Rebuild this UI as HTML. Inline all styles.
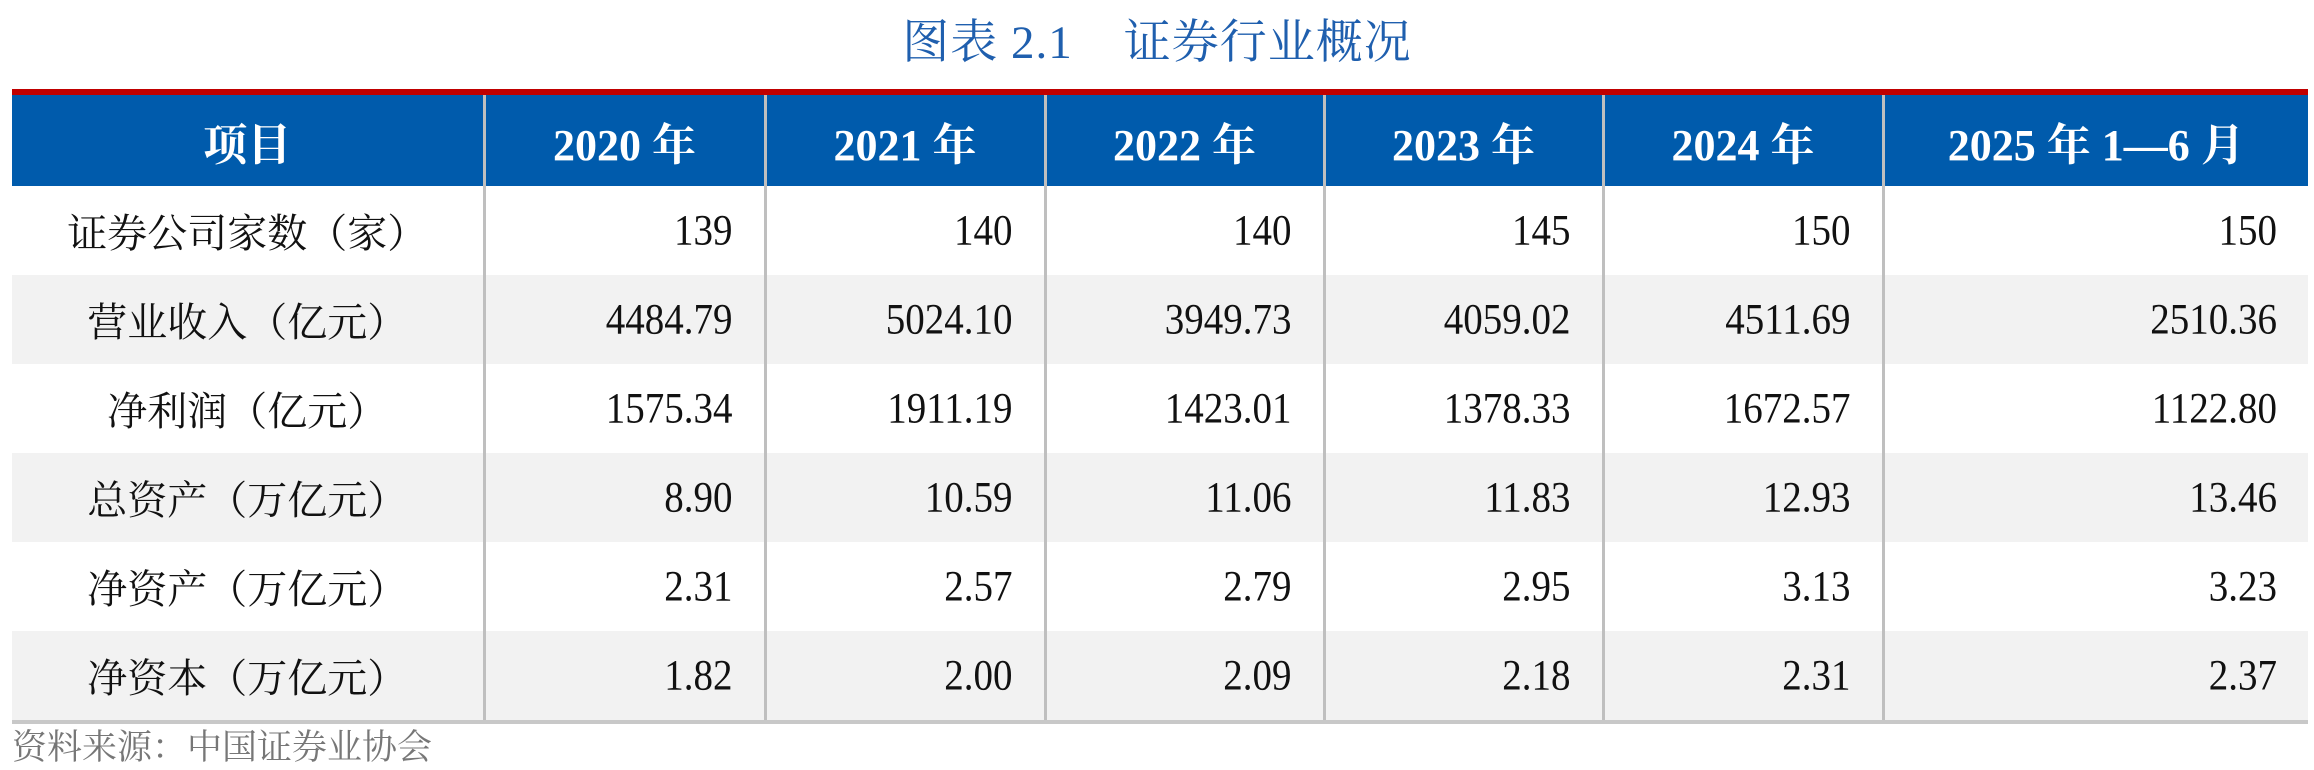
<!DOCTYPE html>
<html><head><meta charset="utf-8"><style>
body{margin:0;width:2314px;height:770px;background:#fff;position:relative;overflow:hidden;font-family:"Liberation Serif","Noto Serif CJK SC",serif}
.title{position:absolute;top:5px;left:0;width:2314px;text-align:center;font-size:47px;color:#1f5fae;letter-spacing:1px}
.red{position:absolute;left:12px;width:2296px;top:89px;height:6px;background:#c00000}
table{position:absolute;left:12px;top:95px;width:2296px;border-collapse:collapse;table-layout:fixed}
th{background:#005bac;color:#fff;font-size:44px;font-weight:bold;height:91px;padding:0;border-left:3px solid #bfbfbf;text-align:center}
td{height:89px;padding:0 31px 0 0;font-size:39px;color:#111;text-align:right;border-left:3px solid #bfbfbf}
td span{display:inline-block;transform:scaleY(1.1)}
th:first-child,td:first-child{border-left:none}
td:first-child{text-align:center;padding:0;font-size:40px}
tr.g td{background:#f2f2f2}
tbody tr:last-child td{border-bottom:4px solid #c8c8c8}
.src{position:absolute;left:12px;top:720px;font-size:35px;color:#777}
</style></head><body>
<div class="title">图表 2.1&nbsp;&nbsp;&nbsp;&nbsp;证券行业概况</div>
<div class="red"></div>
<table>
<colgroup><col style="width:472px"><col style="width:281px"><col style="width:280px"><col style="width:279px"><col style="width:279px"><col style="width:280px"><col style="width:425px"></colgroup>
<thead><tr><th>项目</th><th>2020 年</th><th>2021 年</th><th>2022 年</th><th>2023 年</th><th>2024 年</th><th>2025 年 1—6 月</th></tr></thead>
<tbody>
<tr><td>证券公司家数（家）</td><td><span>139</span></td><td><span>140</span></td><td><span>140</span></td><td><span>145</span></td><td><span>150</span></td><td><span>150</span></td></tr>
<tr class="g"><td>营业收入（亿元）</td><td><span>4484.79</span></td><td><span>5024.10</span></td><td><span>3949.73</span></td><td><span>4059.02</span></td><td><span>4511.69</span></td><td><span>2510.36</span></td></tr>
<tr><td>净利润（亿元）</td><td><span>1575.34</span></td><td><span>1911.19</span></td><td><span>1423.01</span></td><td><span>1378.33</span></td><td><span>1672.57</span></td><td><span>1122.80</span></td></tr>
<tr class="g"><td>总资产（万亿元）</td><td><span>8.90</span></td><td><span>10.59</span></td><td><span>11.06</span></td><td><span>11.83</span></td><td><span>12.93</span></td><td><span>13.46</span></td></tr>
<tr><td>净资产（万亿元）</td><td><span>2.31</span></td><td><span>2.57</span></td><td><span>2.79</span></td><td><span>2.95</span></td><td><span>3.13</span></td><td><span>3.23</span></td></tr>
<tr class="g"><td>净资本（万亿元）</td><td><span>1.82</span></td><td><span>2.00</span></td><td><span>2.09</span></td><td><span>2.18</span></td><td><span>2.31</span></td><td><span>2.37</span></td></tr>
</tbody></table>
<div class="src">资料来源：中国证券业协会</div>
</body></html>
